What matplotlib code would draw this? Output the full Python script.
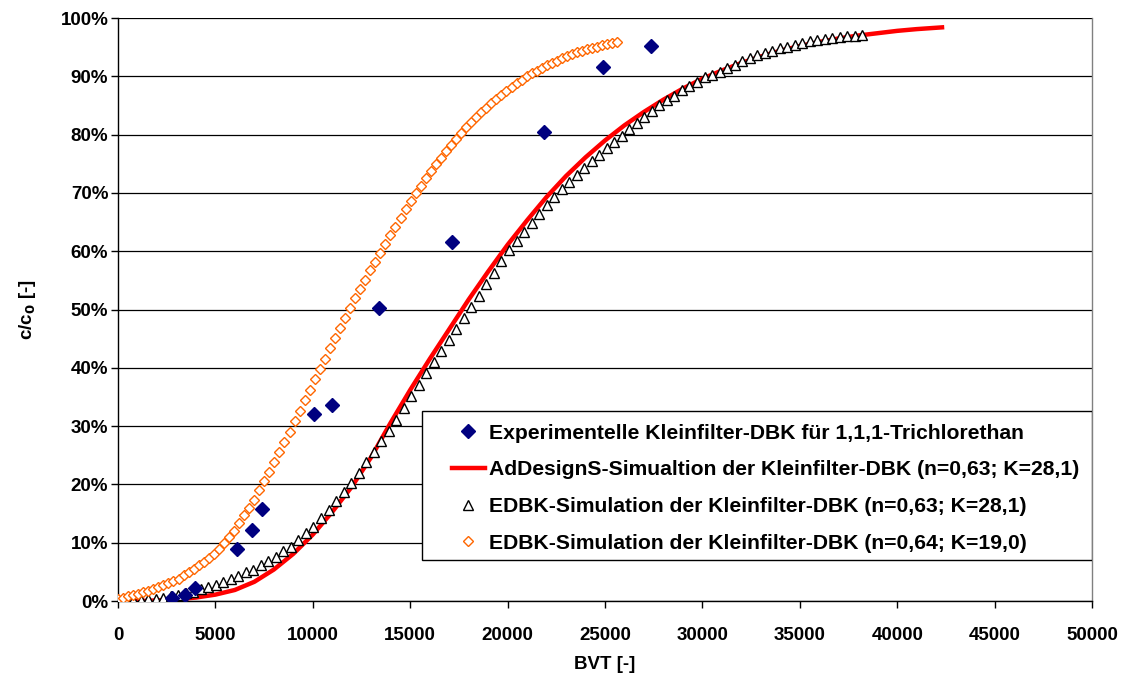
import matplotlib
matplotlib.use("Agg")
import matplotlib.pyplot as plt
from matplotlib.patches import Rectangle
from matplotlib.ticker import FuncFormatter

plt.rcParams['font.family'] = ['Liberation Sans', 'DejaVu Sans']
plt.rcParams['font.weight'] = 'bold'

# --- Experimentelle Kleinfilter-DBK (Messpunkte) ---
exp_bvt = [2760, 3440, 3950, 6130, 6900, 7410, 10060, 10990, 13380, 17150, 21890, 24910, 27350]
exp_c = [0.5, 1.0, 2.2, 9.0, 12.2, 15.8, 32.0, 33.6, 50.3, 61.5, 80.4, 91.6, 95.2]

# --- AdDesignS-Simulation (Linie) ---
ads_bvt = [0, 1000, 2000, 3000, 4000, 5000, 6000, 7000, 8000, 9000, 10000, 11000, 12000,
           13000, 14000, 15000, 16000, 17000, 18000, 19000, 20000, 21000, 22000, 23000,
           24000, 25000, 26000, 27000, 28000, 29000, 30000, 31000, 32000, 33000, 34000,
           35000, 36000, 37000, 38000, 39000, 40000, 41000, 42300]
ads_c = [0.0, 0.0, 0.1, 0.3, 0.6, 1.1, 1.9, 3.3, 5.4, 8.1, 11.4, 15.3, 19.6,
         24.7, 30.6, 36.2, 41.5, 46.6, 51.7, 56.5, 61.1, 65.3, 69.3, 72.9,
         76.1, 79.0, 81.6, 83.9, 86.0, 87.9, 89.6, 91.0, 92.3, 93.4, 94.4,
         95.2, 95.9, 96.5, 97.0, 97.4, 97.8, 98.1, 98.4]

# --- EDBK-Simulation n=0,63; K=28,1 (Dreiecke) ---
edbk1_bvt = [0, 386, 772, 1158, 1544, 1930, 2316, 2702, 3088, 3474,
             3860, 4246, 4632, 5018, 5404, 5790, 6176, 6562, 6948, 7334,
             7720, 8106, 8492, 8878, 9264, 9650, 10036, 10422, 10808, 11194,
             11580, 11966, 12352, 12738, 13124, 13510, 13896, 14282, 14668, 15054,
             15440, 15826, 16212, 16598, 16984, 17370, 17756, 18142, 18528, 18914,
             19300, 19686, 20072, 20458, 20844, 21230, 21616, 22002, 22388, 22774,
             23160, 23546, 23932, 24318, 24704, 25090, 25476, 25862, 26248, 26634,
             27020, 27406, 27792, 28178, 28564, 28950, 29336, 29722, 30108, 30494,
             30880, 31266, 31652, 32038, 32424, 32810, 33196, 33582, 33968, 34354,
             34740, 35126, 35512, 35898, 36284, 36670, 37056, 37442, 37828, 38214]
edbk1_c = [0.0, 0.0, 0.1, 0.1, 0.3, 0.4, 0.6, 0.8, 1.0, 1.3,
           1.6, 2.0, 2.4, 2.8, 3.3, 3.8, 4.3, 4.9, 5.4, 6.1,
           6.9, 7.6, 8.5, 9.3, 10.4, 11.6, 12.7, 14.2, 15.6, 17.1,
           18.7, 20.3, 22.0, 23.8, 25.6, 27.4, 29.2, 31.1, 33.1, 35.1,
           37.1, 39.1, 41.0, 42.9, 44.8, 46.7, 48.5, 50.4, 52.4, 54.4,
           56.3, 58.3, 60.2, 61.7, 63.3, 64.8, 66.4, 67.9, 69.3, 70.6,
           71.9, 73.1, 74.3, 75.4, 76.5, 77.7, 78.7, 79.8, 80.9, 82.0,
           83.1, 84.0, 85.0, 85.9, 86.7, 87.6, 88.3, 89.1, 89.8, 90.3,
           90.8, 91.4, 92.0, 92.6, 93.1, 93.6, 94.0, 94.4, 94.8, 95.1,
           95.4, 95.7, 96.0, 96.2, 96.4, 96.6, 96.8, 96.9, 97.0, 97.1]

# --- EDBK-Simulation n=0,64; K=19,0 (Rauten, offen) ---
edbk2_bvt = [0, 259, 518, 777, 1036, 1295, 1554, 1813, 2072, 2331,
             2590, 2849, 3108, 3367, 3626, 3885, 4144, 4403, 4662, 4921,
             5180, 5439, 5698, 5957, 6216, 6475, 6734, 6993, 7252, 7511,
             7770, 8029, 8288, 8547, 8806, 9065, 9324, 9583, 9842, 10101,
             10360, 10619, 10878, 11137, 11396, 11655, 11914, 12173, 12432, 12691,
             12950, 13209, 13468, 13727, 13986, 14245, 14504, 14763, 15022, 15281,
             15540, 15799, 16058, 16317, 16576, 16835, 17094, 17353, 17612, 17871,
             18130, 18389, 18648, 18907, 19166, 19425, 19684, 19943, 20202, 20461,
             20720, 20979, 21238, 21497, 21756, 22015, 22274, 22533, 22792, 23051,
             23310, 23569, 23828, 24087, 24346, 24605, 24864, 25123, 25382, 25641]
edbk2_c = [0.4, 0.6, 0.8, 1.0, 1.2, 1.5, 1.8, 2.1, 2.4, 2.7,
           3.1, 3.4, 3.8, 4.4, 4.9, 5.5, 6.1, 6.7, 7.4, 8.1,
           9.0, 10.0, 11.0, 12.0, 13.3, 14.7, 16.0, 17.4, 19.0, 20.6,
           22.2, 23.8, 25.5, 27.3, 29.0, 30.8, 32.6, 34.4, 36.2, 38.0,
           39.8, 41.6, 43.4, 45.1, 46.9, 48.6, 50.3, 52.0, 53.5, 55.1,
           56.7, 58.2, 59.7, 61.2, 62.7, 64.2, 65.7, 67.2, 68.7, 70.0,
           71.2, 72.5, 73.8, 74.9, 76.0, 77.2, 78.3, 79.3, 80.3, 81.3,
           82.2, 83.0, 83.8, 84.6, 85.4, 86.1, 86.8, 87.5, 88.2, 88.8,
           89.4, 90.0, 90.5, 90.9, 91.4, 91.9, 92.3, 92.7, 93.1, 93.5,
           93.8, 94.1, 94.4, 94.7, 94.9, 95.1, 95.3, 95.5, 95.7, 95.9]

labels = [
    "Experimentelle Kleinfilter-DBK für 1,1,1-Trichlorethan",
    "AdDesignS-Simualtion der Kleinfilter-DBK (n=0,63; K=28,1)",
    "EDBK-Simulation der Kleinfilter-DBK (n=0,63; K=28,1)",
    "EDBK-Simulation der Kleinfilter-DBK (n=0,64; K=19,0)",
]

fig = plt.figure(figsize=(11.28, 6.83), dpi=100)
ax = fig.add_axes([0.1046, 0.12, 0.8635, 0.8536])

h_exp, = ax.plot(exp_bvt, exp_c, linestyle='none', marker='D', markersize=7,
                 color='#000080', label=labels[0], zorder=5)
h_ads, = ax.plot(ads_bvt, ads_c, color='#ff0000', linewidth=3.2, label=labels[1], zorder=3)
h_e1, = ax.plot(edbk1_bvt, edbk1_c, linestyle='none', marker='^', markersize=7,
                markerfacecolor='white', markeredgecolor='black', markeredgewidth=1.0,
                label=labels[2], zorder=4)
h_e2, = ax.plot(edbk2_bvt, edbk2_c, linestyle='none', marker='D', markersize=4.6,
                markerfacecolor='white', markeredgecolor='#ff6600', markeredgewidth=1.0,
                label=labels[3], zorder=4)

ax.set_xlim(0, 50000)
ax.set_ylim(0, 100)
ax.set_xticks(range(0, 50001, 5000))
ax.set_yticks(range(0, 101, 10))
ax.yaxis.set_major_formatter(FuncFormatter(lambda v, p: f"{v:.0f}%"))
ax.grid(axis='y', color='black', linewidth=0.9)
ax.set_axisbelow(True)

for s in ['left', 'bottom']:
    ax.spines[s].set_color('black')
    ax.spines[s].set_linewidth(1.0)
ax.spines['top'].set_visible(False)
ax.spines['right'].set_color('#808080')
ax.spines['right'].set_linewidth(1.0)

ax.tick_params(axis='both', direction='out', length=5, width=1, labelsize=13.5)
ax.tick_params(axis='x', pad=14)
ax.tick_params(axis='y', pad=2)
for lab in ax.get_xticklabels() + ax.get_yticklabels():
    lab.set_fontweight('bold')

ax.set_xlabel("BVT [-]", fontsize=13.5, fontweight='bold', labelpad=8)
ax.set_ylabel("c/c$_\\mathbf{0}$ [-]", fontsize=13.5, fontweight='bold', labelpad=16)

# Legendenrahmen separat zeichnen, Legende selbst ohne Rahmen
box = Rectangle((0.312, 0.0703), 0.688, 0.2557, transform=ax.transAxes,
                facecolor='white', edgecolor='black', linewidth=1.0, zorder=6)
ax.add_patch(box)

leg = ax.legend(handles=[h_exp, h_ads, h_e1, h_e2], loc='upper left',
                bbox_to_anchor=(0.343, 0.3044), frameon=False, fontsize=15.2,
                borderaxespad=0, borderpad=0, labelspacing=0.84,
                handlelength=1.55, handletextpad=0.2)
leg.set_zorder(7)
for t in leg.get_texts():
    t.set_fontweight('bold')

fig.savefig("out.png", dpi=100)
